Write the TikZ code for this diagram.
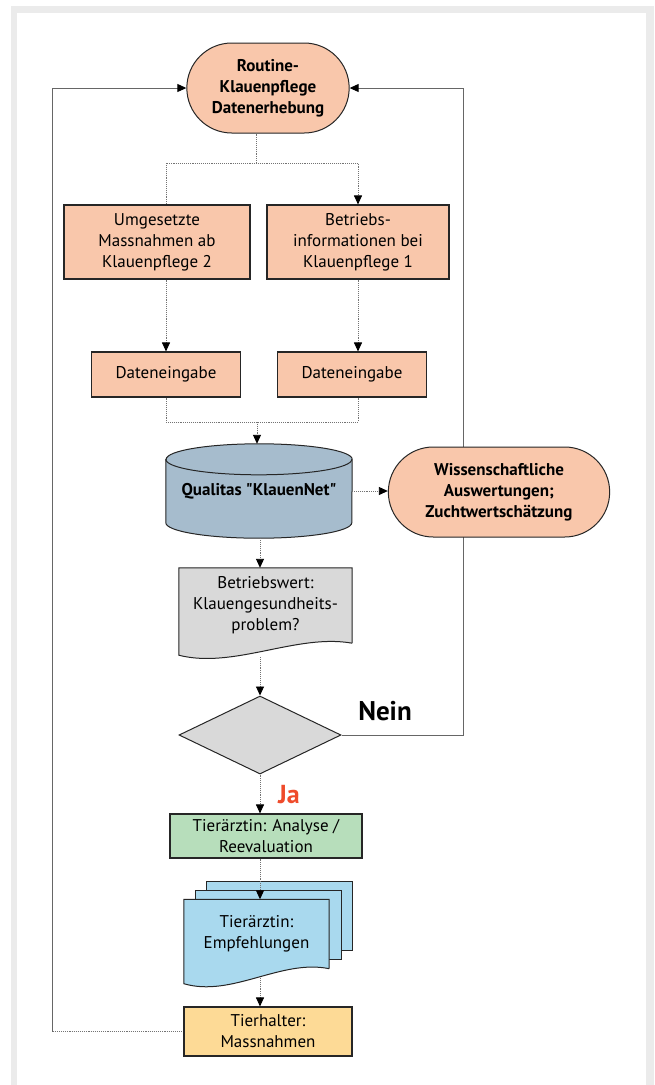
\documentclass[tikz,border=0pt]{standalone}
\usepackage{fontspec}
\setmainfont{PT Sans}
\usepackage{xcolor}
\usetikzlibrary{shapes.geometric, shapes.misc, arrows.meta, backgrounds}

\definecolor{peach}{HTML}{F9C7AB}
\definecolor{dbblue}{HTML}{A6BCCD}
\definecolor{docgray}{HTML}{D9D9D9}
\definecolor{mint}{HTML}{B7DEBB}
\definecolor{skyblue}{HTML}{A9D9EE}
\definecolor{straw}{HTML}{FDDA96}
\definecolor{jared}{HTML}{EF4B2B}
\definecolor{framegray}{HTML}{EBEBEB}

\begin{document}
\begin{tikzpicture}[x=1pt, y=-1pt, font=\fontsize{17}{21}\selectfont]
	\tikzstyle{box}=[draw=black!85, line width=1.1pt, rectangle, align=center, inner sep=2pt]
	\tikzstyle{term}=[draw=black!85, line width=1pt, rounded rectangle, fill=peach, align=center, font=\fontsize{17}{21}\selectfont\bfseries]
	\tikzstyle{textonly}=[rectangle, align=center, inner sep=0pt]
	\tikzstyle{outline}=[draw=black!85, line width=1pt]
	\tikzstyle{flow}=[densely dotted, draw=black!55, line width=0.9pt]
	\tikzstyle{arr}=[flow, -{Triangle[length=9pt, width=8pt, color=black]}]
	\tikzstyle{backline}=[draw=black!60, line width=0.9pt]
	
	\useasboundingbox (0,0) rectangle (654,1085);
	
	\node[term, minimum width=169pt, minimum height=90pt] (pflege) at (268,88) {Routine-\\Klauenpflege\\Datenerhebung};
	\node[box, fill=peach, minimum width=186pt, minimum height=74pt] (umges) at (157,242) {Umgesetzte\\Massnahmen ab\\Klauenpflege 2};
	\node[box, fill=peach, minimum width=182pt, minimum height=74pt] (betrieb) at (358,242) {Betriebs-\\informationen bei\\Klauenpflege 1};
	\node[box, fill=peach, minimum width=149pt, minimum height=45pt] (eingabeL) at (166,374.5) {Dateneingabe};
	\node[box, fill=peach, minimum width=149pt, minimum height=45pt] (eingabeR) at (352,374.5) {Dateneingabe};
	\node[textonly, minimum width=186pt, minimum height=94pt, font=\fontsize{17}{21}\selectfont\bfseries] (klauennet) at (259,491) {\raisebox{-8pt}{Qualitas \textquotedbl KlauenNet\textquotedbl}};
	\node[term, minimum width=228pt, minimum height=90pt] (wiss) at (499,492) {Wissenschaftliche\\Auswertungen;\\Zuchtwertschätzung};
	\node[textonly, minimum width=173pt, minimum height=75pt] (wert) at (265.5,605.5) {Betriebswert:\\Klauengesundheits-\\problem?};
	\node[diamond, draw=black!85, line width=1pt, fill=docgray, minimum width=162pt, minimum height=78pt, inner sep=0pt] (entscheid) at (260,735) {};
	\node[font=\fontsize{27}{30}\selectfont\bfseries] (nein) at (385,711) {Nein};
	\node[font=\fontsize{26}{30}\selectfont\bfseries, text=jared] (ja) at (289,795) {Ja};
	\node[box, fill=mint, minimum width=192pt, minimum height=44pt] (gruen) at (266,836) {Tierärztin: Analyse /\\Reevaluation};
	\node[textonly, minimum width=145pt, minimum height=69pt] (empf) at (256.5,934) {Tierärztin:\\Empfehlungen};
	\node[box, fill=straw, minimum width=168pt, minimum height=49pt] (halter) at (268,1031.5) {Tierhalter:\\Massnahmen};
	
	\begin{scope}[on background layer]
		\fill[white] (0,0) rectangle (654,1085);
		\fill[framegray] (11,6) rectangle (654,1085);
		\fill[white] (17,13) rectangle (646,1085);
		% loops back to the start
		\coordinate (lcorner) at (52,1031);
		\coordinate (rcorner) at (463,735);
		\draw[flow] (halter.west) -- (halter.west -| lcorner);
		\draw[backline, -{Triangle[length=9pt, width=8pt, color=black]}] (halter.west -| lcorner) |- (pflege.west);
		\draw[backline, -{Triangle[length=9pt, width=8pt, color=black]}] (entscheid.east) -- (rcorner) |- (pflege.east);
		% database
		\filldraw[outline, fill=dbblue] ([yshift=-15.5pt]klauennet.north west) -- ([yshift=15.5pt]klauennet.south west)
			arc[start angle=180, end angle=360, x radius=93pt, y radius=15.5pt]
			-- ([yshift=-15.5pt]klauennet.north east)
			arc[start angle=0, end angle=180, x radius=93pt, y radius=15.5pt] -- cycle;
		\draw[outline] ([yshift=-15.5pt]klauennet.north west) arc[start angle=180, end angle=360, x radius=93pt, y radius=15.5pt];
		% documents
		\filldraw[outline, fill=docgray] (wert.south east) -- (wert.north east) -- (wert.north west) -- ([yshift=-12pt]wert.south west)
			.. controls +(55pt,-14pt) and +(-55pt,10pt) .. (wert.south east);
		\filldraw[outline, fill=skyblue] ([shift={(23pt,18pt)}]empf.north west) rectangle ([shift={(23pt,18pt)}]empf.south east);
		\filldraw[outline, fill=skyblue] ([shift={(12pt,9pt)}]empf.north west) rectangle ([shift={(12pt,9pt)}]empf.south east);
		\filldraw[outline, fill=skyblue] (empf.south east) -- (empf.north east) -- (empf.north west) -- ([yshift=-15pt]empf.south west)
			.. controls +(48pt,-14pt) and +(-48pt,10pt) .. (empf.south east);
	\end{scope}
	
	\coordinate (split) at (256,163);
	\coordinate (merge) at (257,422);
	\draw[flow] (pflege.south -| split) -- (split) -| (eingabeL.north |- umges.north);
	\draw[arr] (split) -| (betrieb.north);
	\draw[arr] (umges.south -| eingabeL.north) -- (eingabeL.north);
	\draw[arr] (betrieb.south) -- (betrieb.south |- eingabeR.north);
	\draw[flow] (eingabeL.south) |- (merge);
	\draw[flow] (betrieb.south |- eingabeR.south) |- (merge);
	\draw[arr] (merge) -- (merge |- klauennet.north);
	\draw[arr] (klauennet.east) -- (klauennet.east -| wiss.west);
	\draw[arr] (klauennet.south -| entscheid.north) -- (entscheid.north |- wert.north);
	\draw[arr] (entscheid.north |- 0,657) -- (entscheid.north);
	\draw[arr] (entscheid.south) -- (entscheid.south |- gruen.north);
	\draw[arr] (entscheid.south |- gruen.south) -- (entscheid.south |- empf.north);
	\draw[arr] (entscheid.south |- 0,978) -- (entscheid.south |- halter.north);
\end{tikzpicture}
\end{document}
